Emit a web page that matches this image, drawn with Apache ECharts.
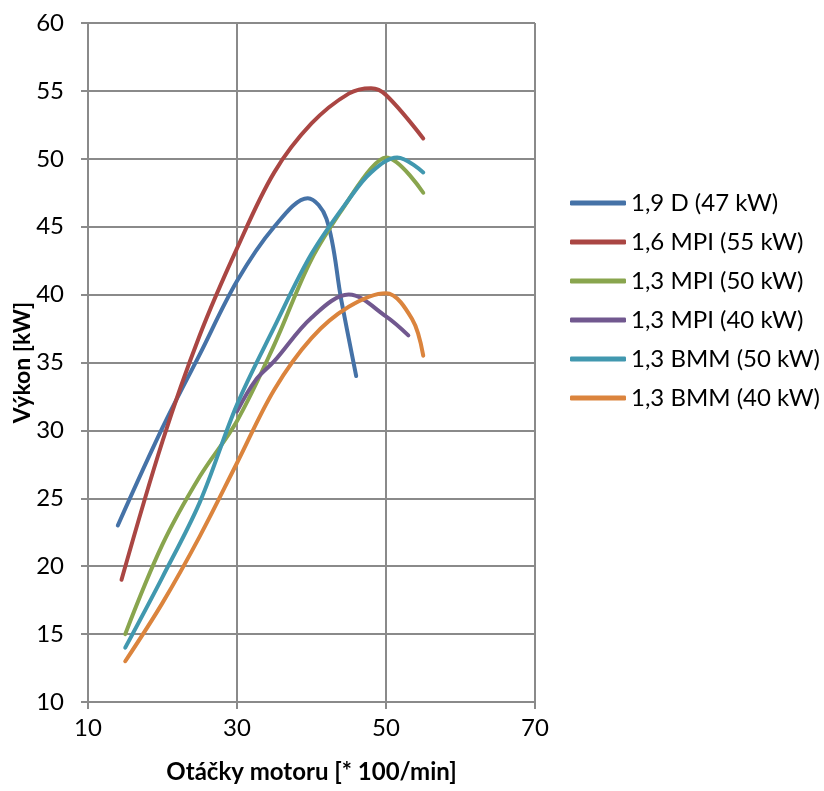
<!DOCTYPE html>
<html>
<head>
<meta charset="utf-8">
<script src="https://cdn.jsdelivr.net/npm/echarts@6/dist/echarts.min.js"></script>
<style>
html,body{margin:0;padding:0;background:#fff;}
#chart{width:824px;height:791px;}
</style>
</head>
<body>
<div id="chart"></div>
<script>
// Data (x = engine speed [*100/min], y = power [kW])
const seriesNames = ['1,9 D (47 kW)', '1,6 MPI (55 kW)', '1,3 MPI (50 kW)', '1,3 MPI (40 kW)', '1,3 BMM (50 kW)', '1,3 BMM (40 kW)'];
const d19D = [[14,23],[20,30.2],[25,35.6],[30,41],[35,45],[39.5,47.1],[42,45.6],[44,39.6],[46,34]];
const d16MPI55 = [[14.5,19],[20,29.2],[25,37],[30,43.4],[35,49],[40,52.6],[45,54.8],[48,55.2],[50,54.7],[55,51.5]];
const d13MPI50 = [[15,15],[20,21.6],[25,26.6],[30,30.7],[35,36.3],[40,42.6],[45,47],[48,49.3],[50,50.1],[55,47.5]];
const d13MPI40 = [[30,31.4],[32.5,33.7],[35,35.1],[40,38.3],[45,40],[50,38.4],[53,37]];
const d13BMM50 = [[15,14],[20,19.2],[25,24.7],[30,31.9],[35,37.6],[40,43],[45,47],[48,49],[51.5,50.1],[55,49]];
const d13BMM40 = [[15,13],[20,17.3],[25,22.2],[30,27.6],[35,33],[40,36.8],[45,39.1],[50,40.1],[53.5,38.2],[55,35.5]];
const xTicks = {min: 10, max: 70, interval: 20};
const yTicks = {min: 10, max: 60, interval: 5};
const colors = ['#4572A7', '#AA4643', '#89A54E', '#71588F', '#4198AF', '#DB843D'];
const allData = [d19D, d16MPI55, d13MPI50, d13MPI40, d13BMM50, d13BMM40];

const FONT = 'Lato';
const gridColor = '#8a8a8a';
const chart = echarts.init(document.getElementById('chart'), null, {renderer: 'canvas'});
chart.setOption({
  animation: false,
  color: colors,
  grid: {left: 88, top: 23, width: 447, height: 679, containLabel: false, outerBoundsMode: 'none'},
  legend: {
    orient: 'vertical',
    left: 565,
    top: 186,
    itemWidth: 56,
    itemHeight: 5,
    itemGap: 15,
    icon: 'roundRect',
    textStyle: {fontFamily: FONT, fontSize: 24, color: '#000', lineHeight: 24},
    data: seriesNames
  },
  xAxis: {
    type: 'value',
    min: xTicks.min, max: xTicks.max, interval: xTicks.interval,
    name: 'Otáčky motoru [* 100/min]',
    nameLocation: 'middle',
    nameGap: 58,
    nameMoveOverlap: false,
    nameTextStyle: {fontFamily: FONT, fontSize: 24, fontWeight: 'bold', color: '#000'},
    axisLine: {show: true, lineStyle: {color: gridColor, width: 2}},
    axisTick: {show: true, length: 7, inside: false, lineStyle: {color: gridColor, width: 2}},
    axisLabel: {fontFamily: FONT, fontSize: 24, color: '#000', margin: 14},
    splitLine: {show: true, lineStyle: {color: gridColor, width: 2}}
  },
  yAxis: {
    type: 'value',
    min: yTicks.min, max: yTicks.max, interval: yTicks.interval,
    name: 'Výkon [kW]',
    nameLocation: 'middle',
    nameGap: 54,
    nameRotate: 90,
    nameMoveOverlap: false,
    nameTextStyle: {fontFamily: FONT, fontSize: 23, fontWeight: 'bold', color: '#000'},
    axisLine: {show: true, lineStyle: {color: gridColor, width: 2}},
    axisTick: {show: true, length: 7, inside: false, lineStyle: {color: gridColor, width: 2}},
    axisLabel: {fontFamily: FONT, fontSize: 24, color: '#000', margin: 24},
    splitLine: {show: true, lineStyle: {color: gridColor, width: 2}}
  },
  series: seriesNames.map((n, i) => ({
    name: n,
    type: 'line',
    data: allData[i],
    smooth: 0.35,
    symbol: 'none',
    lineStyle: {width: 4, cap: 'round', join: 'round'}
  }))
});
</script>
</body>
</html>
